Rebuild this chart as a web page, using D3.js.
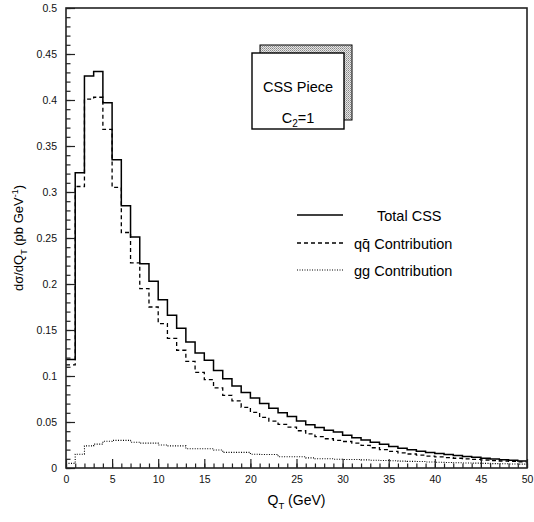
<!DOCTYPE html>
<html>
<head>
<meta charset="utf-8">
<script src="https://cdn.jsdelivr.net/npm/d3@7"></script>
<style>
  body { margin: 0; background: #fff; }
  svg { display: block; font-family: "Liberation Sans", Arial, sans-serif; }
</style>
</head>
<body>
<svg id="chart"></svg>
<script>
// bin values, 1 GeV bins from 0 to 50
const totalCSS = [0.118, 0.321, 0.426, 0.431, 0.397, 0.335, 0.285, 0.251, 0.222, 0.203,
  0.183, 0.166, 0.152, 0.137, 0.125, 0.117, 0.106, 0.097, 0.089, 0.082,
  0.076, 0.070, 0.065, 0.060, 0.056, 0.051, 0.047, 0.044, 0.041, 0.039,
  0.0357, 0.033, 0.0305, 0.028, 0.0257, 0.0235, 0.0215, 0.0198, 0.0182, 0.0168,
  0.0157, 0.0146, 0.0135, 0.0125, 0.0116, 0.0107, 0.0099, 0.0091, 0.0084, 0.0077];
const qqbar = [0.112, 0.306, 0.401, 0.403, 0.368, 0.305, 0.256, 0.223, 0.195, 0.175,
  0.157, 0.141, 0.128, 0.116, 0.104, 0.096, 0.087, 0.079, 0.073, 0.066,
  0.0605, 0.055, 0.051, 0.0475, 0.0445, 0.0405, 0.037, 0.034, 0.0318, 0.030,
  0.0288, 0.027, 0.0245, 0.022, 0.020, 0.018, 0.0165, 0.0152, 0.0140, 0.0130,
  0.0121, 0.0113, 0.0106, 0.0099, 0.0093, 0.0087, 0.0081, 0.0076, 0.0071, 0.0066];
const gg = [0.005, 0.015, 0.024, 0.026, 0.029, 0.030, 0.030, 0.028, 0.027, 0.027,
  0.025, 0.024, 0.024, 0.021, 0.021, 0.021, 0.0195, 0.017, 0.017, 0.017,
  0.015, 0.0147, 0.0147, 0.0122, 0.0122, 0.0122, 0.011, 0.010, 0.010, 0.0095,
  0.0092, 0.0092, 0.0088, 0.0085, 0.0082, 0.0078, 0.0075, 0.0072, 0.007, 0.0065,
  0.0062, 0.006, 0.0057, 0.0055, 0.0053, 0.005, 0.0048, 0.0046, 0.0044, 0.0042];

const xTicks = [0, 5, 10, 15, 20, 25, 30, 35, 40, 45, 50];
const yTicks = [0, 0.05, 0.1, 0.15, 0.2, 0.25, 0.3, 0.35, 0.4, 0.45, 0.5];

const series = [
  { name: "Total CSS", values: totalCSS, dash: null, width: 1.5 },
  { name: "qq\u0304 Contribution", values: qqbar, dash: "4,3", width: 1.3 },
  { name: "gg Contribution", values: gg, dash: "1,1.5", width: 1.1 }
];

let width = 534;
let height = 522;
let margin = { top: 8, right: 7, bottom: 54, left: 66 };

let svg = d3.select("#chart")
  .attr("width", width)
  .attr("height", height);

let x = d3.scaleLinear()
  .domain([0, 50])
  .range([margin.left, width - margin.right]);

let y = d3.scaleLinear()
  .domain([0, 0.5])
  .range([height - margin.bottom, margin.top]);

// stipple pattern for the shadow box
let defs = svg.append("defs");
let pat = defs.append("pattern")
  .attr("id", "stipple")
  .attr("width", 2).attr("height", 2)
  .attr("patternUnits", "userSpaceOnUse");
pat.append("rect").attr("width", 2).attr("height", 2).attr("fill", "#e6e6e6");
pat.append("rect").attr("width", 1).attr("height", 1).attr("fill", "#888");
pat.append("rect").attr("x", 1).attr("y", 1).attr("width", 1).attr("height", 1).attr("fill", "#aaa");

// histogram lines as steps
let step = d3.line()
  .x(d => x(d[0]))
  .y(d => y(d[1]))
  .curve(d3.curveStepAfter);

series.forEach(s => {
  let pts = s.values.map((v, i) => [i, v]);
  pts.push([s.values.length, s.values[s.values.length - 1]]);
  svg.append("path")
    .attr("d", step(pts))
    .attr("fill", "none")
    .attr("stroke", "#000")
    .attr("stroke-width", s.width)
    .attr("stroke-dasharray", s.dash);
});

// minor ticks
svg.append("g")
  .attr("transform", `translate(0,${y(0)})`)
  .call(d3.axisBottom(x).tickValues(d3.range(0, 51, 1)).tickSize(-4.5).tickFormat(""))
  .call(g => g.select(".domain").remove());
svg.append("g")
  .attr("transform", `translate(${x(0)},0)`)
  .call(d3.axisLeft(y).tickValues(d3.range(0, 51, 1).map(d => d / 100)).tickSize(-4.5).tickFormat(""))
  .call(g => g.select(".domain").remove());

// major ticks
let xAxis = svg.append("g")
  .attr("transform", `translate(0,${y(0)})`)
  .call(d3.axisBottom(x).tickValues(xTicks).tickSize(-9).tickPadding(8).tickFormat(d3.format("d")));
let yAxis = svg.append("g")
  .attr("transform", `translate(${x(0)},0)`)
  .call(d3.axisLeft(y).tickValues(yTicks).tickSize(-9).tickPadding(9).tickFormat(d3.format("~g")));

[xAxis, yAxis].forEach(g => {
  g.select(".domain").remove();
  g.selectAll("text").attr("font-size", 10.5).attr("font-family", "Liberation Sans, Arial, sans-serif").attr("fill", "#111");
});
svg.selectAll(".tick line").attr("stroke", "#222").attr("stroke-width", 1.2);

// frame
svg.append("rect")
  .attr("x", x(0)).attr("y", y(0.5))
  .attr("width", x(50) - x(0)).attr("height", y(0) - y(0.5))
  .attr("fill", "none")
  .attr("stroke", "#222")
  .attr("stroke-width", 1.6);

// axis titles
let xt = svg.append("text")
  .attr("x", (x(0) + x(50)) / 2)
  .attr("y", 505)
  .attr("text-anchor", "middle")
  .attr("font-size", 14);
xt.append("tspan").text("Q");
xt.append("tspan").attr("font-size", 9.5).attr("dy", 4).text("T");
xt.append("tspan").attr("dy", -4).text(" (GeV)");

let yt = svg.append("text")
  .attr("transform", `translate(23,${(y(0) + y(0.5)) / 2}) rotate(-90)`)
  .attr("text-anchor", "middle")
  .attr("font-size", 13);
yt.append("tspan").text("d\u03c3/dQ");
yt.append("tspan").attr("font-size", 9).attr("dy", 4).text("T");
yt.append("tspan").attr("dy", -4).text(" (pb GeV");
yt.append("tspan").attr("font-size", 9).attr("dy", -5).text("-1");
yt.append("tspan").attr("dy", 5).text(")");

// CSS Piece box
svg.append("rect")
  .attr("x", 260).attr("y", 45).attr("width", 92).attr("height", 75)
  .attr("fill", "url(#stipple)").attr("stroke", "#000").attr("stroke-width", 1);
svg.append("rect")
  .attr("x", 252).attr("y", 53).attr("width", 92).attr("height", 76)
  .attr("fill", "#fff").attr("stroke", "#000").attr("stroke-width", 1.4);
svg.append("text")
  .attr("x", 298).attr("y", 92)
  .attr("text-anchor", "middle").attr("font-size", 14.5)
  .text("CSS Piece");
let ct = svg.append("text")
  .attr("x", 298).attr("y", 123)
  .attr("text-anchor", "middle").attr("font-size", 14.5);
ct.append("tspan").text("C");
ct.append("tspan").attr("font-size", 10).attr("dy", 4).text("2");
ct.append("tspan").attr("dy", -4).text("=1");

// legend
const legendY = [215, 243, 270];
const legendTextX = [377, 354, 354];
series.forEach((s, i) => {
  svg.append("line")
    .attr("x1", 297).attr("x2", 343)
    .attr("y1", legendY[i]).attr("y2", legendY[i])
    .attr("stroke", "#000")
    .attr("stroke-width", s.width)
    .attr("stroke-dasharray", s.dash);
  svg.append("text")
    .attr("x", legendTextX[i]).attr("y", legendY[i] + 5.5)
    .attr("font-size", 14.5)
    .text(s.name);
});
</script>
</body>
</html>
